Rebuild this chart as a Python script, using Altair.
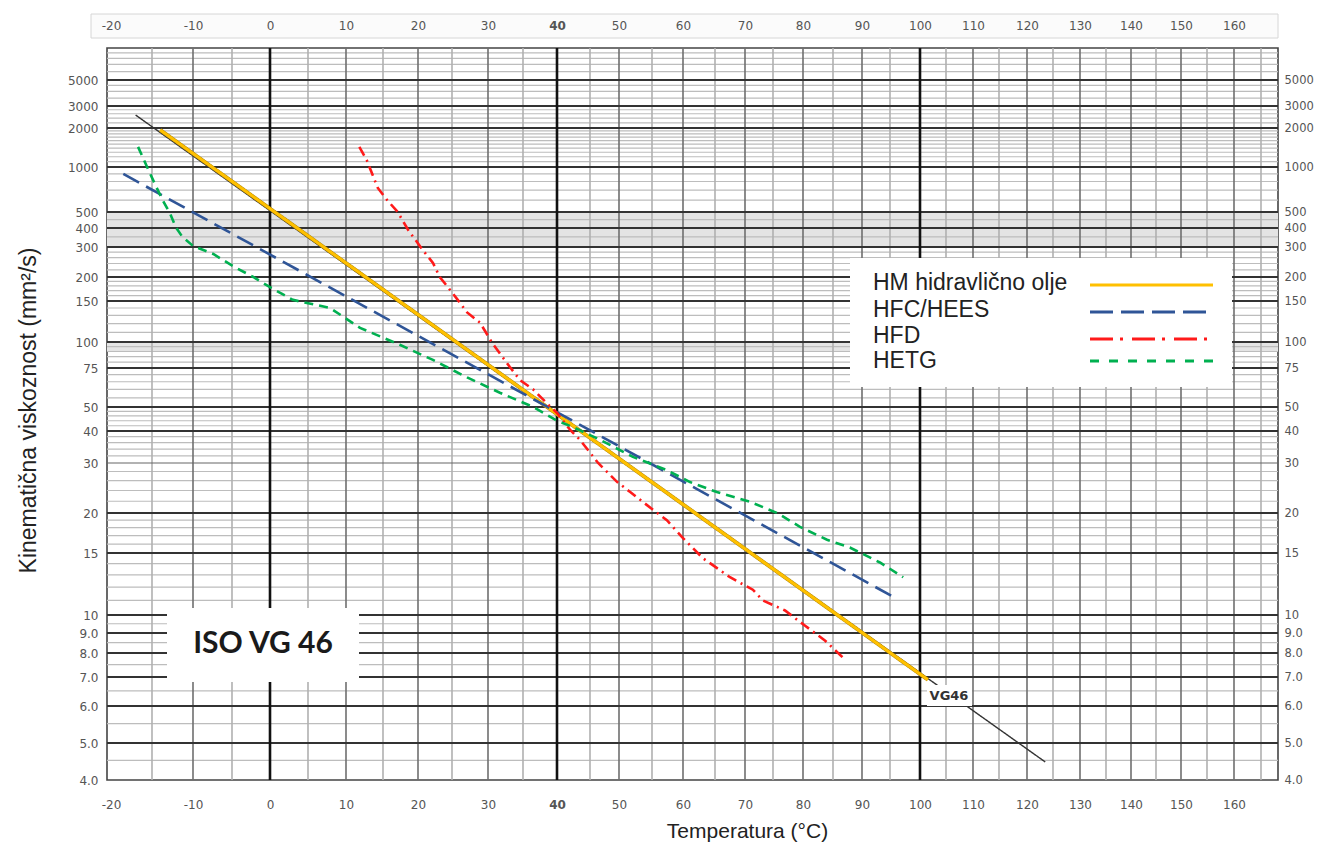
import altair as alt
import pandas as pd

# ---- chart-paper calibration (temperature / viscosity grid of the reference) ----
X_DOMAIN = [-20.5, -20, -15, -10, -5, 0, 5, 10, 15, 20, 25, 30, 35, 40, 45, 50, 55, 60, 65, 70,
            75, 80, 85, 90, 95, 100, 105, 110, 115, 120, 125, 130, 135, 140, 145, 150, 155, 160, 165, 168]
X_RANGE = [0, 4, 45, 86, 125, 163, 201, 239, 276, 311, 345, 381, 416, 450, 483, 512, 545, 576, 608, 638,
           666, 696, 726, 755, 783, 813, 839, 866, 892, 920, 946, 973, 999, 1024, 1049, 1074, 1100, 1127, 1154, 1171]
Y_DOMAIN = [4, 5, 6, 7, 8, 9, 10, 15, 20, 30, 40, 50, 75, 100, 150, 200, 300, 400, 500, 1000, 2000, 3000, 5000, 10000]
Y_RANGE = [732, 695, 658, 629, 605, 585, 567, 505, 465, 415, 383, 359, 320, 294, 253, 229, 199, 180, 164, 119, 80, 58, 32, 0]

# ---- tick labels ----
X_LABELS = [-20, -10, 0, 10, 20, 30, 40, 50, 60, 70, 80, 90, 100, 110, 120, 130, 140, 150, 160]
Y_LABELS = [4, 5, 6, 7, 8, 9, 10, 15, 20, 30, 40, 50, 75, 100, 150, 200, 300, 400, 500, 1000, 2000, 3000, 5000]

# ---- grid lines ----
X_GRID_BOLD = [0, 40, 100]
X_GRID_10 = [-10, 10, 20, 30, 50, 60, 70, 80, 90, 110, 120, 130, 140, 150, 160]
X_GRID_5 = [-15, -5, 5, 15, 25, 35, 45, 55, 65, 75, 85, 95, 105, 115, 125, 135, 145, 155, 165]
Y_GRID_MAJOR = [5000, 3000, 2000, 1000, 500, 400, 300, 200, 150, 100, 75, 50, 40, 20, 15, 10, 9, 8, 7, 6, 5]
Y_GRID_MID = [30]
Y_GRID_MINOR = [9000, 8000, 7000, 6000, 4500, 4000, 3500, 2800, 2600, 2400, 2200,
                1900, 1800, 1700, 1600, 1500, 1400, 1300, 1200, 1100, 900, 800, 700, 600,
                450, 350, 280, 260, 240, 220, 190, 180, 170, 160, 140, 130, 120, 110,
                95, 90, 85, 80, 70, 65, 60, 55, 48, 46, 44, 42, 38, 36, 34, 32,
                28, 26, 24, 22, 19, 18, 17, 16, 14, 13, 12, 11, 9.5, 8.5, 7.5, 6.5, 5.5, 4.5]
BAND_LO = [300, 90]
BAND_HI = [500, 100]

# ---- series ----
SERIES = ["HM hidravlično olje", "HFC/HEES", "HFD", "HETG"]
VG_T = [-17, 123.5]
VG_V = [2540, 4.46]
HM_T = [-14, 101.5]
HM_V = [1930, 6.9]
HFC_T = [-18.5, 95.8]
HFC_V = [898, 11.2]
HFD_T = [11.8, 12.8, 14.3, 15.6, 17.1, 18.6, 20.7, 22.2, 23.2, 24.4, 25.8, 27.1, 28.9, 30.6, 33.1,
         34.6, 36.5, 38.5, 40, 42, 43.5, 46.4, 49.7, 51.7, 55.2, 57.4, 60, 63.1, 67.5, 71.4,
         73.2, 77, 80.3, 83.7, 86.7]
HFD_V = [1430, 1130, 724, 600, 500, 388, 288, 242, 200, 177, 152, 134, 121, 99, 76,
         66, 60, 52, 47.3, 40.4, 36.9, 30, 25.7, 23.7, 20.5, 19, 16.7, 14.5, 12.8, 11.8,
         11, 10.3, 9.4, 8.6, 7.8]
HETG_T = [-16.7, -15.6, -14.6, -13.7, -12.8, -12.1, -11.3, -10, -7.4, -4.9, -2.2, 0, 3, 7.9, 11.9,
          17.4, 22.2, 27.1, 31.7, 36.5, 40, 42.4, 46.7, 52.1, 57.4, 61.1, 65.3, 70.9, 75.7, 79.5,
          84, 87.9, 93.2, 97.2]
HETG_V = [1430, 1000, 760, 600, 490, 405, 350, 305, 273, 232, 200, 177, 152, 140, 115,
          97, 82, 68, 58, 50, 44, 41.5, 37, 31.7, 28.3, 25.7, 23.7, 21.9, 20, 18.1,
          16.5, 15.6, 14.1, 12.8]

COLORS = ["#FFC000", "#2F5597", "#FF1A1A", "#00B050"]
LINE_DASHES = [[1, 0], [18, 8], [10, 5, 2, 5], [9, 6]]
LEGEND_DASHES = [[1, 0], [23, 8], [23, 7, 3, 9], [9, 10]]

xs = alt.Scale(type="linear", domain=X_DOMAIN, range=X_RANGE, nice=False, zero=False)
ys = alt.Scale(type="log", domain=Y_DOMAIN, range=Y_RANGE, nice=False)

LABEL_FONT = "DejaVu Sans"
LABEL_COLOR = "#555555"
BOLD40 = {"condition": {"test": "datum.value == 40", "value": "bold"}, "value": "normal"}
XLABEL_EXPR = "datum.value < 0 ? '-' + abs(datum.value) : '' + datum.value"

ax_bottom = alt.Axis(orient="bottom", values=X_LABELS, ticks=False, domain=False, grid=False,
                     labelPadding=19, labelFontSize=12, labelColor=LABEL_COLOR, labelFont=LABEL_FONT,
                     labelFontWeight=BOLD40, labelOverlap=False, labelFlush=False, labelExpr=XLABEL_EXPR,
                     title="Temperatura (°C)", titleFont="Liberation Sans", titleFontSize=21,
                     titleFontWeight="normal", titleColor="#222222", titleX=640, titleY=51,
                     titleBaseline="middle", titleAlign="center", zindex=1)
ax_top = alt.Axis(orient="top", values=X_LABELS, ticks=False, domain=False, grid=False,
                  labelPadding=16, labelFontSize=12, labelColor=LABEL_COLOR, labelFont=LABEL_FONT,
                  labelFontWeight=BOLD40, labelOverlap=False, labelFlush=False, labelExpr=XLABEL_EXPR,
                  title=None, zindex=1)
YLABEL_EXPR = "datum.value < 10 ? format(datum.value, '.1f') : format(datum.value, 'd')"
ax_left = alt.Axis(orient="left", values=Y_LABELS, ticks=False, domain=False, grid=False,
                   labelPadding=9, labelFontSize=12, labelColor=LABEL_COLOR, labelFont=LABEL_FONT,
                   labelExpr=YLABEL_EXPR, labelOverlap=False, labelFlush=False, labelBound=False,
                   title="Kinematična viskoznost  (mm²/s)", titleFont="Liberation Sans", titleFontSize=23,
                   titleFontWeight="normal", titleColor="#222222", titleX=-79, titleY=362,
                   titleAngle=-90, titleBaseline="middle", titleAlign="center", zindex=1)
ax_right = alt.Axis(orient="right", values=Y_LABELS, ticks=False, domain=False, grid=False,
                    labelPadding=6, labelFontSize=11.5, labelColor=LABEL_COLOR, labelFont=LABEL_FONT,
                    labelExpr=YLABEL_EXPR, labelOverlap=False, labelFlush=False, labelBound=False,
                    title=None, zindex=1)


def vrules(vals, color, width):
    return alt.Chart(pd.DataFrame({"T": vals})).mark_rule(color=color, strokeWidth=width).encode(
        x=alt.X("T:Q", scale=xs, axis=None))


def hrules(vals, color, width):
    return alt.Chart(pd.DataFrame({"v": vals})).mark_rule(color=color, strokeWidth=width).encode(
        y=alt.Y("v:Q", scale=ys, axis=None))


bands = alt.Chart(pd.DataFrame({"lo": BAND_LO, "hi": BAND_HI})).mark_rect(color="#e4e4e4").encode(
    x=alt.value(0), x2=alt.value(1171),
    y=alt.Y("lo:Q", scale=ys, axis=None), y2="hi:Q")

grid = [
    bands,
    hrules(Y_GRID_MINOR, "#bdbdbd", 1.2),
    vrules(X_GRID_5, "#b0b0b0", 1.6),
    vrules(X_GRID_10, "#6f6f6f", 1.6),
    hrules(Y_GRID_MID, "#666666", 1.2),
    hrules(Y_GRID_MAJOR, "#333333", 2.0),
    vrules(X_GRID_BOLD, "#111111", 2.6),
]


def series_line(T, V, color, width, dash, xaxis=None, yaxis=None):
    return alt.Chart(pd.DataFrame({"T": T, "v": V})).mark_line(
        color=color, strokeWidth=width, strokeDash=dash).encode(
        x=alt.X("T:Q", scale=xs, axis=xaxis),
        y=alt.Y("v:Q", scale=ys, axis=yaxis),
        order=alt.Order("T:Q"))


lines = [
    series_line(VG_T, VG_V, "#333333", 1.4, [1, 0], ax_top, ax_right),
    series_line(HM_T, HM_V, "#a8820a", 3.8, LINE_DASHES[0]),
    series_line(HM_T, HM_V, COLORS[0], 3.0, LINE_DASHES[0], ax_bottom, ax_left),
    series_line(HFC_T, HFC_V, COLORS[1], 2.6, LINE_DASHES[1]),
    series_line(HFD_T, HFD_V, COLORS[2], 2.6, LINE_DASHES[2]),
    series_line(HETG_T, HETG_V, COLORS[3], 2.6, LINE_DASHES[3]),
]

# ---- annotations ----
iso_box = alt.Chart(pd.DataFrame({"a": [0]})).mark_rect(color="white").encode(
    x=alt.value(60), x2=alt.value(252), y=alt.value(560), y2=alt.value(634))
iso_text = alt.Chart(pd.DataFrame({"t": ["ISO VG 46"]})).mark_text(
    font="Lato", fontWeight="bold", fontSize=30, color="#1a1a1a", align="center", baseline="middle").encode(
    x=alt.value(156), y=alt.value(596), text="t:N")
vg_box = alt.Chart(pd.DataFrame({"a": [0]})).mark_rect(color="white").encode(
    x=alt.value(820), x2=alt.value(865), y=alt.value(637), y2=alt.value(658))
vg_text = alt.Chart(pd.DataFrame({"t": ["VG46"]})).mark_text(
    font="DejaVu Sans", fontWeight="bold", fontSize=13, color="#333333", align="center", baseline="middle").encode(
    x=alt.value(842), y=alt.value(648), text="t:N")

top_box = alt.Chart(pd.DataFrame({"a": [0]})).mark_rect(fill="#fbfbfb", stroke="#d6d6d6", strokeWidth=1).encode(
    x=alt.value(-16), x2=alt.value(1171), y=alt.value(-34), y2=alt.value(-10))

# ---- legend (labels left, line samples right) ----
legend_parts = [alt.Chart(pd.DataFrame({"a": [0]})).mark_rect(color="white").encode(
    x=alt.value(743), x2=alt.value(1125), y=alt.value(210), y2=alt.value(339))]
LEG_TEXT_Y = [235, 262, 288, 313]
LEG_LINE_Y = [237, 264, 291, 313]
for i, name in enumerate(SERIES):
    legend_parts.append(alt.Chart(pd.DataFrame({"t": [name]})).mark_text(
        font="Liberation Sans", fontSize=23, color="#222222", align="left", baseline="middle").encode(
        x=alt.value(766), y=alt.value(LEG_TEXT_Y[i]), text="t:N"))
    legend_parts.append(alt.Chart(pd.DataFrame({"a": [0]})).mark_rule(
        color=COLORS[i], strokeWidth=3, strokeDash=LEGEND_DASHES[i]).encode(
        x=alt.value(983), x2=alt.value(1106), y=alt.value(LEG_LINE_Y[i])))

chart = alt.layer(*grid, *lines, iso_box, iso_text, vg_box, vg_text, top_box, *legend_parts).properties(
    width=1171, height=732,
    autosize=alt.AutoSizeParams(type="none"),
    padding={"left": 99, "top": 40, "right": 36, "bottom": 62},
    background="white",
).configure_view(stroke="#444444", strokeWidth=1.6)

chart.save("out.html", embed_options={"renderer": "svg", "actions": False})
